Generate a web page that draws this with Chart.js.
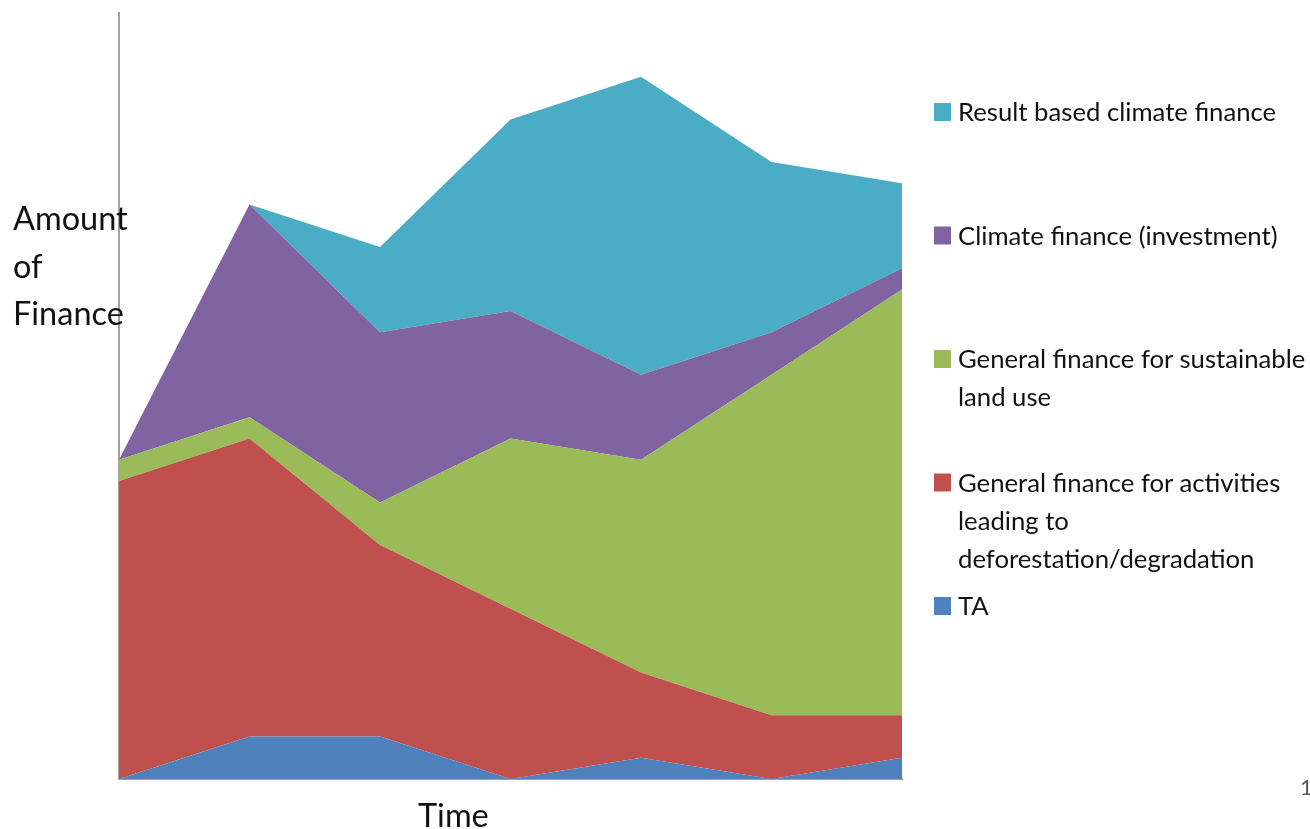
<!DOCTYPE html>
<html>
<head>
<meta charset="utf-8">
<title>Amount of Finance over Time</title>
<script src="https://cdn.jsdelivr.net/npm/chart.js@4"></script>
<style>
  html, body { margin: 0; padding: 0; background: #ffffff; }
  #wrap { position: relative; width: 1310px; height: 829px; overflow: hidden; }
  #chart { position: absolute; left: 0; top: 0; }
  #labels { position: absolute; left: 0; top: 0; pointer-events: none; }
  #labels text { font-family: Lato, "Open Sans", sans-serif; fill: #111111; }
</style>
</head>
<body>
<div id="wrap">
  <canvas id="chart" width="1310" height="829"></canvas>
  <svg id="labels" width="1310" height="829" xmlns="http://www.w3.org/2000/svg"></svg>
</div>
<script>
// Time periods (unlabelled on the axis)
const periods = ['t1', 't2', 't3', 't4', 't5', 't6', 't7'];

// Finance amounts per period, bottom layer first
const taValues                = [0, 2, 2, 0, 1, 0, 1];
const deforestationValues     = [14, 14, 9, 8, 4, 3, 2];
const sustainableLandValues   = [1, 1, 2, 8, 10, 16, 20];
const climateInvestmentValues = [0, 10, 8, 6, 4, 2, 1];
const resultBasedValues       = [0, 0, 4, 9, 14, 8, 4];

// Series names, bottom layer first
const seriesNames = [
  'TA',
  'General finance for activities leading to deforestation/degradation',
  'General finance for sustainable land use',
  'Climate finance (investment)',
  'Result based climate finance'
];

// How each legend entry breaks over lines
const legendLines = [
  ['TA'],
  ['General finance for activities', 'leading to', 'deforestation/degradation'],
  ['General finance for sustainable', 'land use'],
  ['Climate finance (investment)'],
  ['Result based climate finance']
];

const yAxisTitle = ['Amount', 'of', 'Finance'];
const xAxisTitle = 'Time';
const yMax = 36;

const seriesColors = ['#4F81BD', '#C0504D', '#9BBB59', '#8064A2', '#4BACC6'];
const seriesValues = [taValues, deforestationValues, sustainableLandValues,
                      climateInvestmentValues, resultBasedValues];

const datasets = seriesValues.map((vals, i) => ({
  label: seriesNames[i],
  data: vals,
  backgroundColor: seriesColors[i],
  borderColor: seriesColors[i],
  borderWidth: 0,
  pointRadius: 0,
  pointHoverRadius: 0,
  tension: 0,
  fill: i === 0 ? 'origin' : '-1'
}));

const axisGray = '#A0A0A0';

new Chart(document.getElementById('chart'), {
  type: 'line',
  data: { labels: periods, datasets },
  options: {
    responsive: false,
    animation: false,
    devicePixelRatio: 1,
    layout: { padding: { left: 119, right: 408, top: 13, bottom: 50 } },
    plugins: {
      legend: { display: false },
      tooltip: { enabled: false },
      filler: { propagate: false }
    },
    scales: {
      x: {
        type: 'category',
        offset: false,
        grid: { display: false },
        ticks: { display: false },
        border: { display: true, color: axisGray, width: 2 },
        afterFit: s => { s.height = 0; }
      },
      y: {
        stacked: true,
        min: 0,
        max: yMax,
        grid: { display: false },
        ticks: { display: false },
        border: { display: true, color: axisGray, width: 2 },
        afterFit: s => { s.width = 0; }
      }
    }
  }
});

// Titles and legend as SVG text
const svg = document.getElementById('labels');
const NS = 'http://www.w3.org/2000/svg';
function addText(str, x, y, size, fill) {
  const t = document.createElementNS(NS, 'text');
  t.setAttribute('x', x);
  t.setAttribute('y', y);
  t.setAttribute('font-size', size);
  if (fill) t.setAttribute('style', 'fill:' + fill);
  t.textContent = str;
  svg.appendChild(t);
}
function addRect(x, y, w, h, fill) {
  const r = document.createElementNS(NS, 'rect');
  r.setAttribute('x', x); r.setAttribute('y', y);
  r.setAttribute('width', w); r.setAttribute('height', h);
  r.setAttribute('fill', fill);
  svg.appendChild(r);
}

yAxisTitle.forEach((line, i) => addText(line, 13, 230 + i * 47.5, 32.5));
addText(xAxisTitle, 418, 827, 32.5);

// Legend: top entry is the top layer
const legendFirstBaseline = 121;
const legendStep = 123.5;
const legendLineHeight = 38;
for (let k = 0; k < seriesNames.length; k++) {
  const i = seriesNames.length - 1 - k;
  const base = legendFirstBaseline + k * legendStep;
  addRect(934, base - 18, 17, 18, seriesColors[i]);
  legendLines[i].forEach((line, j) => addText(line, 958, base + j * legendLineHeight, 25.7));
}

// Page number at the slide edge
addText('1', 1300, 795, 22, '#5a5a5a');
</script>
</body>
</html>
